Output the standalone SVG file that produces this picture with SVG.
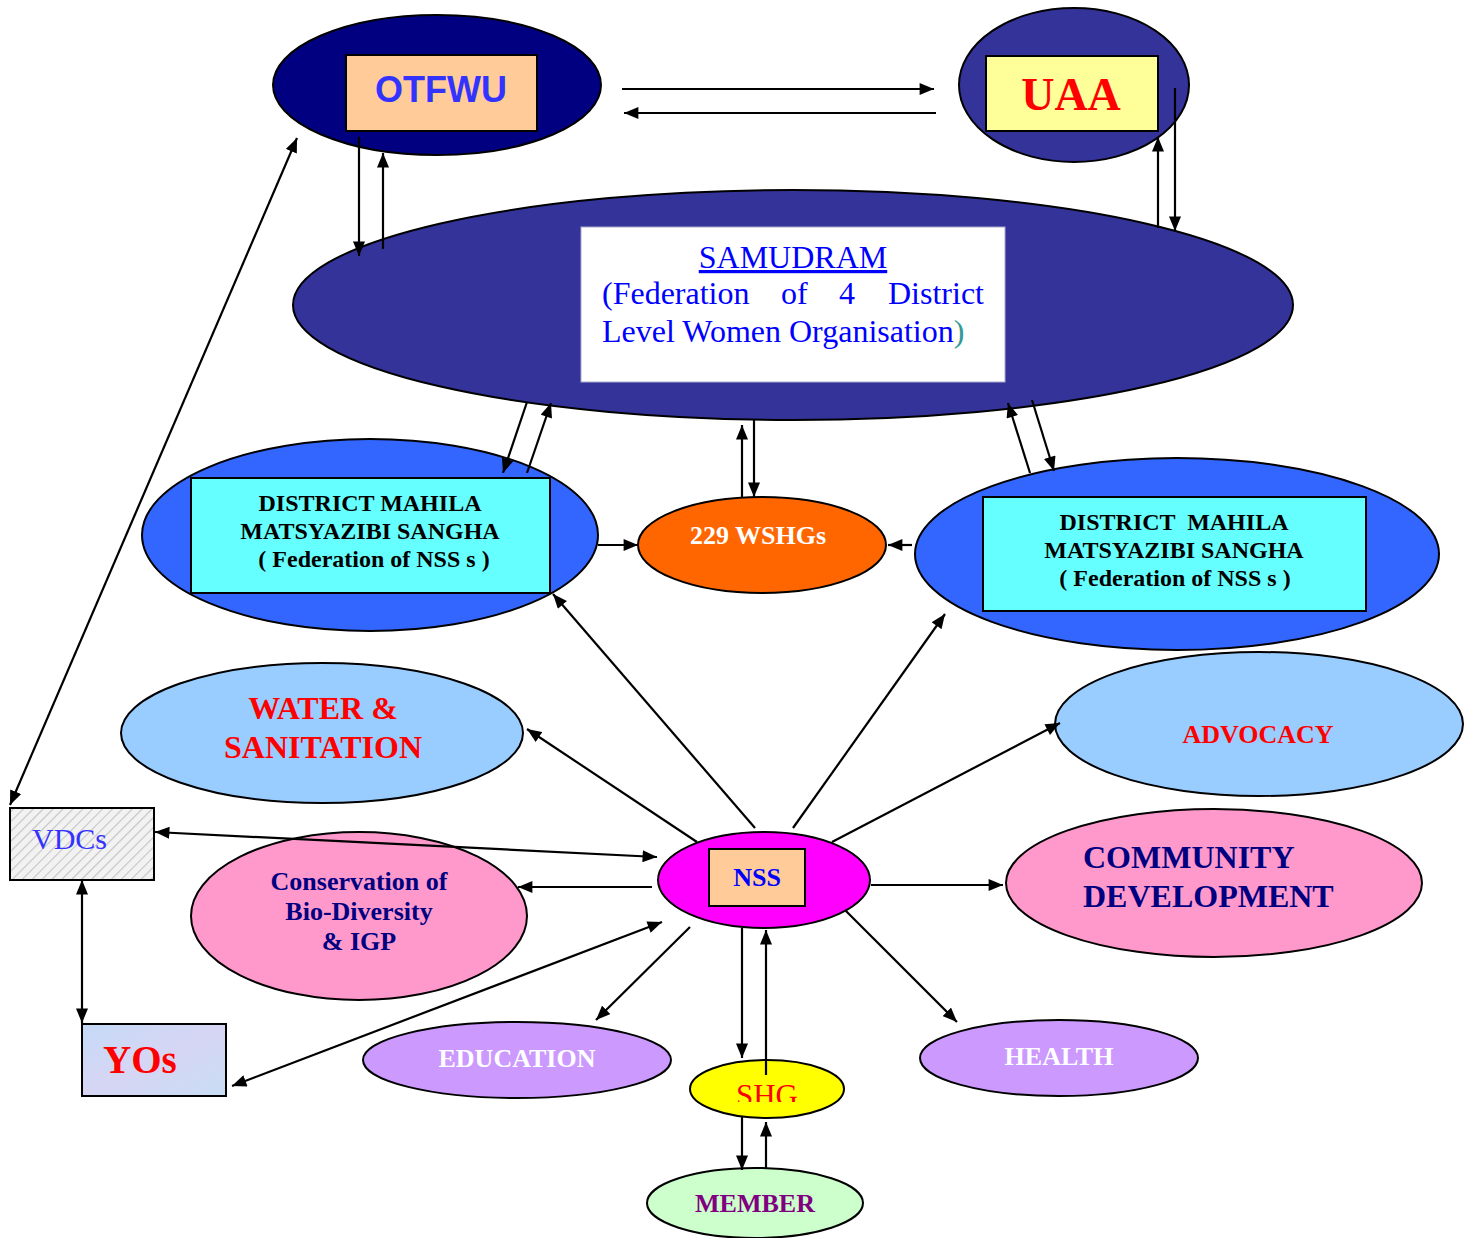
<svg xmlns="http://www.w3.org/2000/svg" width="1468" height="1238" viewBox="0 0 1468 1238">
<style>
.ol{stroke:#000;stroke-width:2}
.c{stroke:#000;stroke-width:2.2;fill:none}
.t{font-family:"Liberation Serif","Times New Roman",serif;text-anchor:middle}
.b{font-weight:bold}
</style>
<defs>
<marker id="ah" viewBox="0 0 12 10" refX="12" refY="5" markerWidth="15" markerHeight="12" markerUnits="userSpaceOnUse" orient="auto-start-reverse">
<path d="M0,0 L12,5 L0,10 z" fill="#000"/>
</marker>
<pattern id="hatch" width="7" height="7" patternUnits="userSpaceOnUse" patternTransform="rotate(45)">
<rect width="7" height="7" fill="#F2F2F2"/>
<line x1="0" y1="0" x2="0" y2="7" stroke="#C4C4C4" stroke-width="2.2"/>
</pattern>
<linearGradient id="yog" x1="0" y1="0" x2="1" y2="1">
<stop offset="0" stop-color="#C4DAF7"/>
<stop offset="0.5" stop-color="#D6D6F4"/>
<stop offset="1" stop-color="#C9DDF5"/>
</linearGradient>
<clipPath id="shgclip"><rect x="680" y="1060" width="170" height="42"/></clipPath>
</defs>
<rect width="1468" height="1238" fill="#fff"/>

<g id="otfwu">
<ellipse cx="437" cy="85" rx="164" ry="70" fill="#000080" class="ol"/>
<rect x="346" y="55" width="191" height="76" fill="#FFCC99" class="ol"/>
<text x="441" y="102" font-family="'Liberation Sans',Arial,sans-serif" font-weight="bold" font-size="36" fill="#3333FF" text-anchor="middle">OTFWU</text>
</g>

<g id="uaa">
<ellipse cx="1074" cy="85" rx="115" ry="77" fill="#333399" class="ol"/>
<rect x="986" y="56" width="172" height="75" fill="#FFFF99" class="ol"/>
<text x="1071" y="110" class="t b" font-size="46" fill="#FF0000">UAA</text>
</g>

<g id="samudram">
<ellipse cx="793" cy="305" rx="500" ry="115" fill="#333399" class="ol"/>
<rect x="581" y="227" width="424" height="155" fill="#FFFFFF" stroke="#AAAACC" stroke-width="1"/>
<text x="793" y="268" class="t" font-size="32" fill="#0000FF" text-decoration="underline">SAMUDRAM</text>
<text y="304" font-family="'Liberation Serif','Times New Roman',serif" font-size="32" fill="#0000FF"><tspan x="602">(Federation</tspan><tspan x="781">of</tspan><tspan x="839">4</tspan><tspan x="888">District</tspan></text>
<text x="602" y="342" font-family="'Liberation Serif','Times New Roman',serif" font-size="32" fill="#0000FF">Level Women Organisation<tspan fill="#339999">)</tspan></text>
</g>

<g id="dmms-left">
<ellipse cx="370" cy="535" rx="228" ry="96" fill="#3366FF" class="ol"/>
<rect x="191" y="478" width="359" height="115" fill="#66FFFF" class="ol"/>
<text class="t b" font-size="24" fill="#000"><tspan x="370" y="511">DISTRICT MAHILA</tspan><tspan x="370" y="539">MATSYAZIBI SANGHA</tspan><tspan x="374" y="567">( Federation of NSS s )</tspan></text>
</g>

<g id="dmms-right">
<ellipse cx="1177" cy="554" rx="262" ry="96" fill="#3366FF" class="ol"/>
<rect x="983" y="497" width="383" height="114" fill="#66FFFF" class="ol"/>
<text class="t b" font-size="24" fill="#000" xml:space="preserve"><tspan x="1174" y="530">DISTRICT  MAHILA</tspan><tspan x="1174" y="558">MATSYAZIBI SANGHA</tspan><tspan x="1175" y="586">( Federation of NSS s )</tspan></text>
</g>

<g id="wshgs">
<ellipse cx="762" cy="545" rx="124" ry="48" fill="#FF6600" class="ol"/>
<text x="758" y="544" class="t b" font-size="26" fill="#FFFFFF">229 WSHGs</text>
</g>

<g id="water">
<ellipse cx="322" cy="733" rx="201" ry="70" fill="#99CCFF" class="ol"/>
<text class="t b" font-size="32" fill="#FF0000"><tspan x="323" y="719">WATER &amp;</tspan><tspan x="323" y="758">SANITATION</tspan></text>
</g>

<g id="advocacy">
<ellipse cx="1259" cy="724" rx="204" ry="72" fill="#99CCFF" class="ol"/>
<text x="1258" y="743" class="t b" font-size="26" fill="#FF0000">ADVOCACY</text>
</g>

<g id="vdcs">
<rect x="10" y="808" width="144" height="72" fill="url(#hatch)" class="ol"/>
<text x="32" y="849" font-family="'Liberation Serif','Times New Roman',serif" font-size="30" fill="#3333FF">VDCs</text>
</g>

<g id="conservation">
<ellipse cx="359" cy="916" rx="168" ry="84" fill="#FF99CC" class="ol"/>
<text class="t b" font-size="26" fill="#000080"><tspan x="359" y="890">Conservation of</tspan><tspan x="359" y="920">Bio-Diversity</tspan><tspan x="359" y="950">&amp; IGP</tspan></text>
</g>

<g id="nss">
<ellipse cx="764" cy="880" rx="106" ry="48" fill="#FF00FF" class="ol"/>
<rect x="709" y="849" width="96" height="57" fill="#FFCC99" class="ol"/>
<text x="757" y="886" class="t b" font-size="26" fill="#0000FF">NSS</text>
</g>

<g id="community">
<ellipse cx="1214" cy="883" rx="208" ry="74" fill="#FF99CC" class="ol"/>
<text font-family="'Liberation Serif','Times New Roman',serif" font-weight="bold" font-size="32" fill="#000080"><tspan x="1083" y="868">COMMUNITY</tspan><tspan x="1083" y="907">DEVELOPMENT</tspan></text>
</g>

<g id="yos">
<rect x="82" y="1024" width="144" height="72" fill="url(#yog)" class="ol"/>
<text x="103" y="1073" font-family="'Liberation Serif','Times New Roman',serif" font-weight="bold" font-size="39" fill="#FF0000">YOs</text>
</g>

<g id="education">
<ellipse cx="517" cy="1060" rx="154" ry="38" fill="#CC99FF" class="ol"/>
<text x="517" y="1067" class="t b" font-size="26" fill="#FFFFFF">EDUCATION</text>
</g>

<g id="health">
<ellipse cx="1059" cy="1058" rx="139" ry="38" fill="#CC99FF" class="ol"/>
<text x="1059" y="1065" class="t b" font-size="26" fill="#FFFFFF">HEALTH</text>
</g>

<g id="shg">
<ellipse cx="767" cy="1089" rx="77" ry="29" fill="#FFFF00" class="ol"/>
<text x="767" y="1106" class="t" font-size="31" fill="#FF0000" clip-path="url(#shgclip)">SHG</text>
</g>

<g id="member">
<ellipse cx="755" cy="1203" rx="108" ry="35" fill="#CCFFCC" class="ol"/>
<text x="755" y="1212" class="t b" font-size="26" fill="#800080">MEMBER</text>
</g>

<g id="connectors">
<line x1="622" y1="89" x2="934" y2="89" class="c" marker-end="url(#ah)"/>
<line x1="936" y1="113" x2="624" y2="113" class="c" marker-end="url(#ah)"/>
<line x1="359" y1="137" x2="359" y2="256" class="c" marker-end="url(#ah)"/>
<line x1="383" y1="249" x2="383" y2="153" class="c" marker-end="url(#ah)"/>
<line x1="1158" y1="228" x2="1158" y2="137" class="c" marker-end="url(#ah)"/>
<line x1="1175" y1="88" x2="1175" y2="231" class="c" marker-end="url(#ah)"/>
<line x1="527" y1="402" x2="503" y2="473" class="c" marker-end="url(#ah)"/>
<line x1="527" y1="473" x2="551" y2="403" class="c" marker-end="url(#ah)"/>
<line x1="1030" y1="473" x2="1008" y2="403" class="c" marker-end="url(#ah)"/>
<line x1="1032" y1="400" x2="1054" y2="471" class="c" marker-end="url(#ah)"/>
<line x1="742" y1="497" x2="742" y2="425" class="c" marker-end="url(#ah)"/>
<line x1="754" y1="420" x2="754" y2="497" class="c" marker-end="url(#ah)"/>
<line x1="598" y1="545" x2="638" y2="545" class="c" marker-end="url(#ah)"/>
<line x1="912" y1="545" x2="888" y2="545" class="c" marker-end="url(#ah)"/>
<line x1="755" y1="828" x2="553" y2="594" class="c" marker-end="url(#ah)"/>
<line x1="793" y1="828" x2="945" y2="614" class="c" marker-end="url(#ah)"/>
<line x1="697" y1="842" x2="527" y2="729" class="c" marker-end="url(#ah)"/>
<line x1="832" y1="842" x2="1060" y2="723" class="c" marker-end="url(#ah)"/>
<line x1="155" y1="832" x2="657" y2="857" class="c" marker-start="url(#ah)" marker-end="url(#ah)"/>
<line x1="652" y1="887" x2="518" y2="887" class="c" marker-end="url(#ah)"/>
<line x1="871" y1="885" x2="1003" y2="885" class="c" marker-end="url(#ah)"/>
<line x1="232" y1="1086" x2="662" y2="922" class="c" marker-start="url(#ah)" marker-end="url(#ah)"/>
<line x1="690" y1="927" x2="596" y2="1020" class="c" marker-end="url(#ah)"/>
<line x1="845" y1="910" x2="957" y2="1022" class="c" marker-end="url(#ah)"/>
<line x1="742" y1="928" x2="742" y2="1058" class="c" marker-end="url(#ah)"/>
<line x1="766" y1="1075" x2="766" y2="930" class="c" marker-end="url(#ah)"/>
<line x1="742" y1="1117" x2="742" y2="1170" class="c" marker-end="url(#ah)"/>
<line x1="766" y1="1168" x2="766" y2="1122" class="c" marker-end="url(#ah)"/>
<line x1="82" y1="880" x2="82" y2="1023" class="c" marker-start="url(#ah)" marker-end="url(#ah)"/>
<line x1="10" y1="805" x2="297" y2="138" class="c" marker-start="url(#ah)" marker-end="url(#ah)"/>
</g>
</svg>
